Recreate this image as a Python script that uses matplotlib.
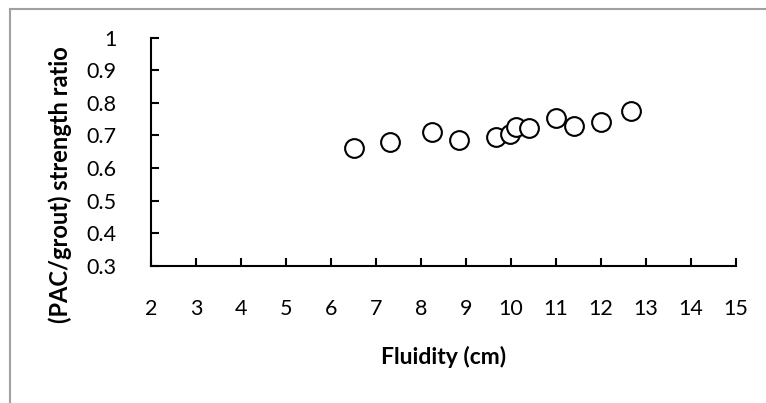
import matplotlib.pyplot as plt
from matplotlib.lines import Line2D

plt.rcParams['font.family'] = ['Lato', 'DejaVu Sans']

# data
fluidity = [6.51, 7.31, 8.24, 8.84, 9.67, 9.98, 10.10, 10.41, 11.0, 11.41, 12.0, 12.67]
ratio = [0.660, 0.680, 0.711, 0.685, 0.694, 0.703, 0.726, 0.722, 0.754, 0.730, 0.741, 0.774]
xticks = list(range(2, 16))
yticks = [0.3, 0.4, 0.5, 0.6, 0.7, 0.8, 0.9, 1.0]
ytick_labels = ['0.3', '0.4', '0.5', '0.6', '0.7', '0.8', '0.9', '1']

fig = plt.figure(figsize=(7.66, 4.03), dpi=100)
W, H = 766, 403
ax = fig.add_axes([151/W, 1-265.7/H, (736-151)/W, (265.7-37.7)/H])

ax.plot(fluidity, ratio, ls='none', marker='o', ms=13.5, mfc='white',
        mec='black', mew=1.5, clip_on=False)

ax.set_xlim(2, 15)
ax.set_ylim(0.3, 1.0)
ax.set_xticks(xticks)
ax.set_yticks(yticks)
ax.set_yticklabels(ytick_labels)
for s in ['top', 'right']:
    ax.spines[s].set_visible(False)
for s in ['left', 'bottom']:
    ax.spines[s].set_linewidth(1.5)
ax.tick_params(axis='x', direction='in', length=6, width=1.5, pad=24, labelsize=15.5)
ax.tick_params(axis='y', direction='in', length=6, width=1.5, pad=25, labelsize=15.5)

ax.set_xlabel('Fluidity (cm)', fontsize=16.5, fontweight='bold', labelpad=19)
fig.text(60/W, 1-185/H, '(PAC/grout) strength ratio', rotation=90, fontsize=17,
         fontweight='bold', ha='center', va='center')

# grey frame on left and top edge
fig.add_artist(Line2D([10/W, 10/W], [0, 1-9/H], color='#a0a0a0', lw=1.5))
fig.add_artist(Line2D([10/W, 1], [1-9/H, 1-9/H], color='#a0a0a0', lw=1.5))

fig.savefig('out.png', dpi=100)
